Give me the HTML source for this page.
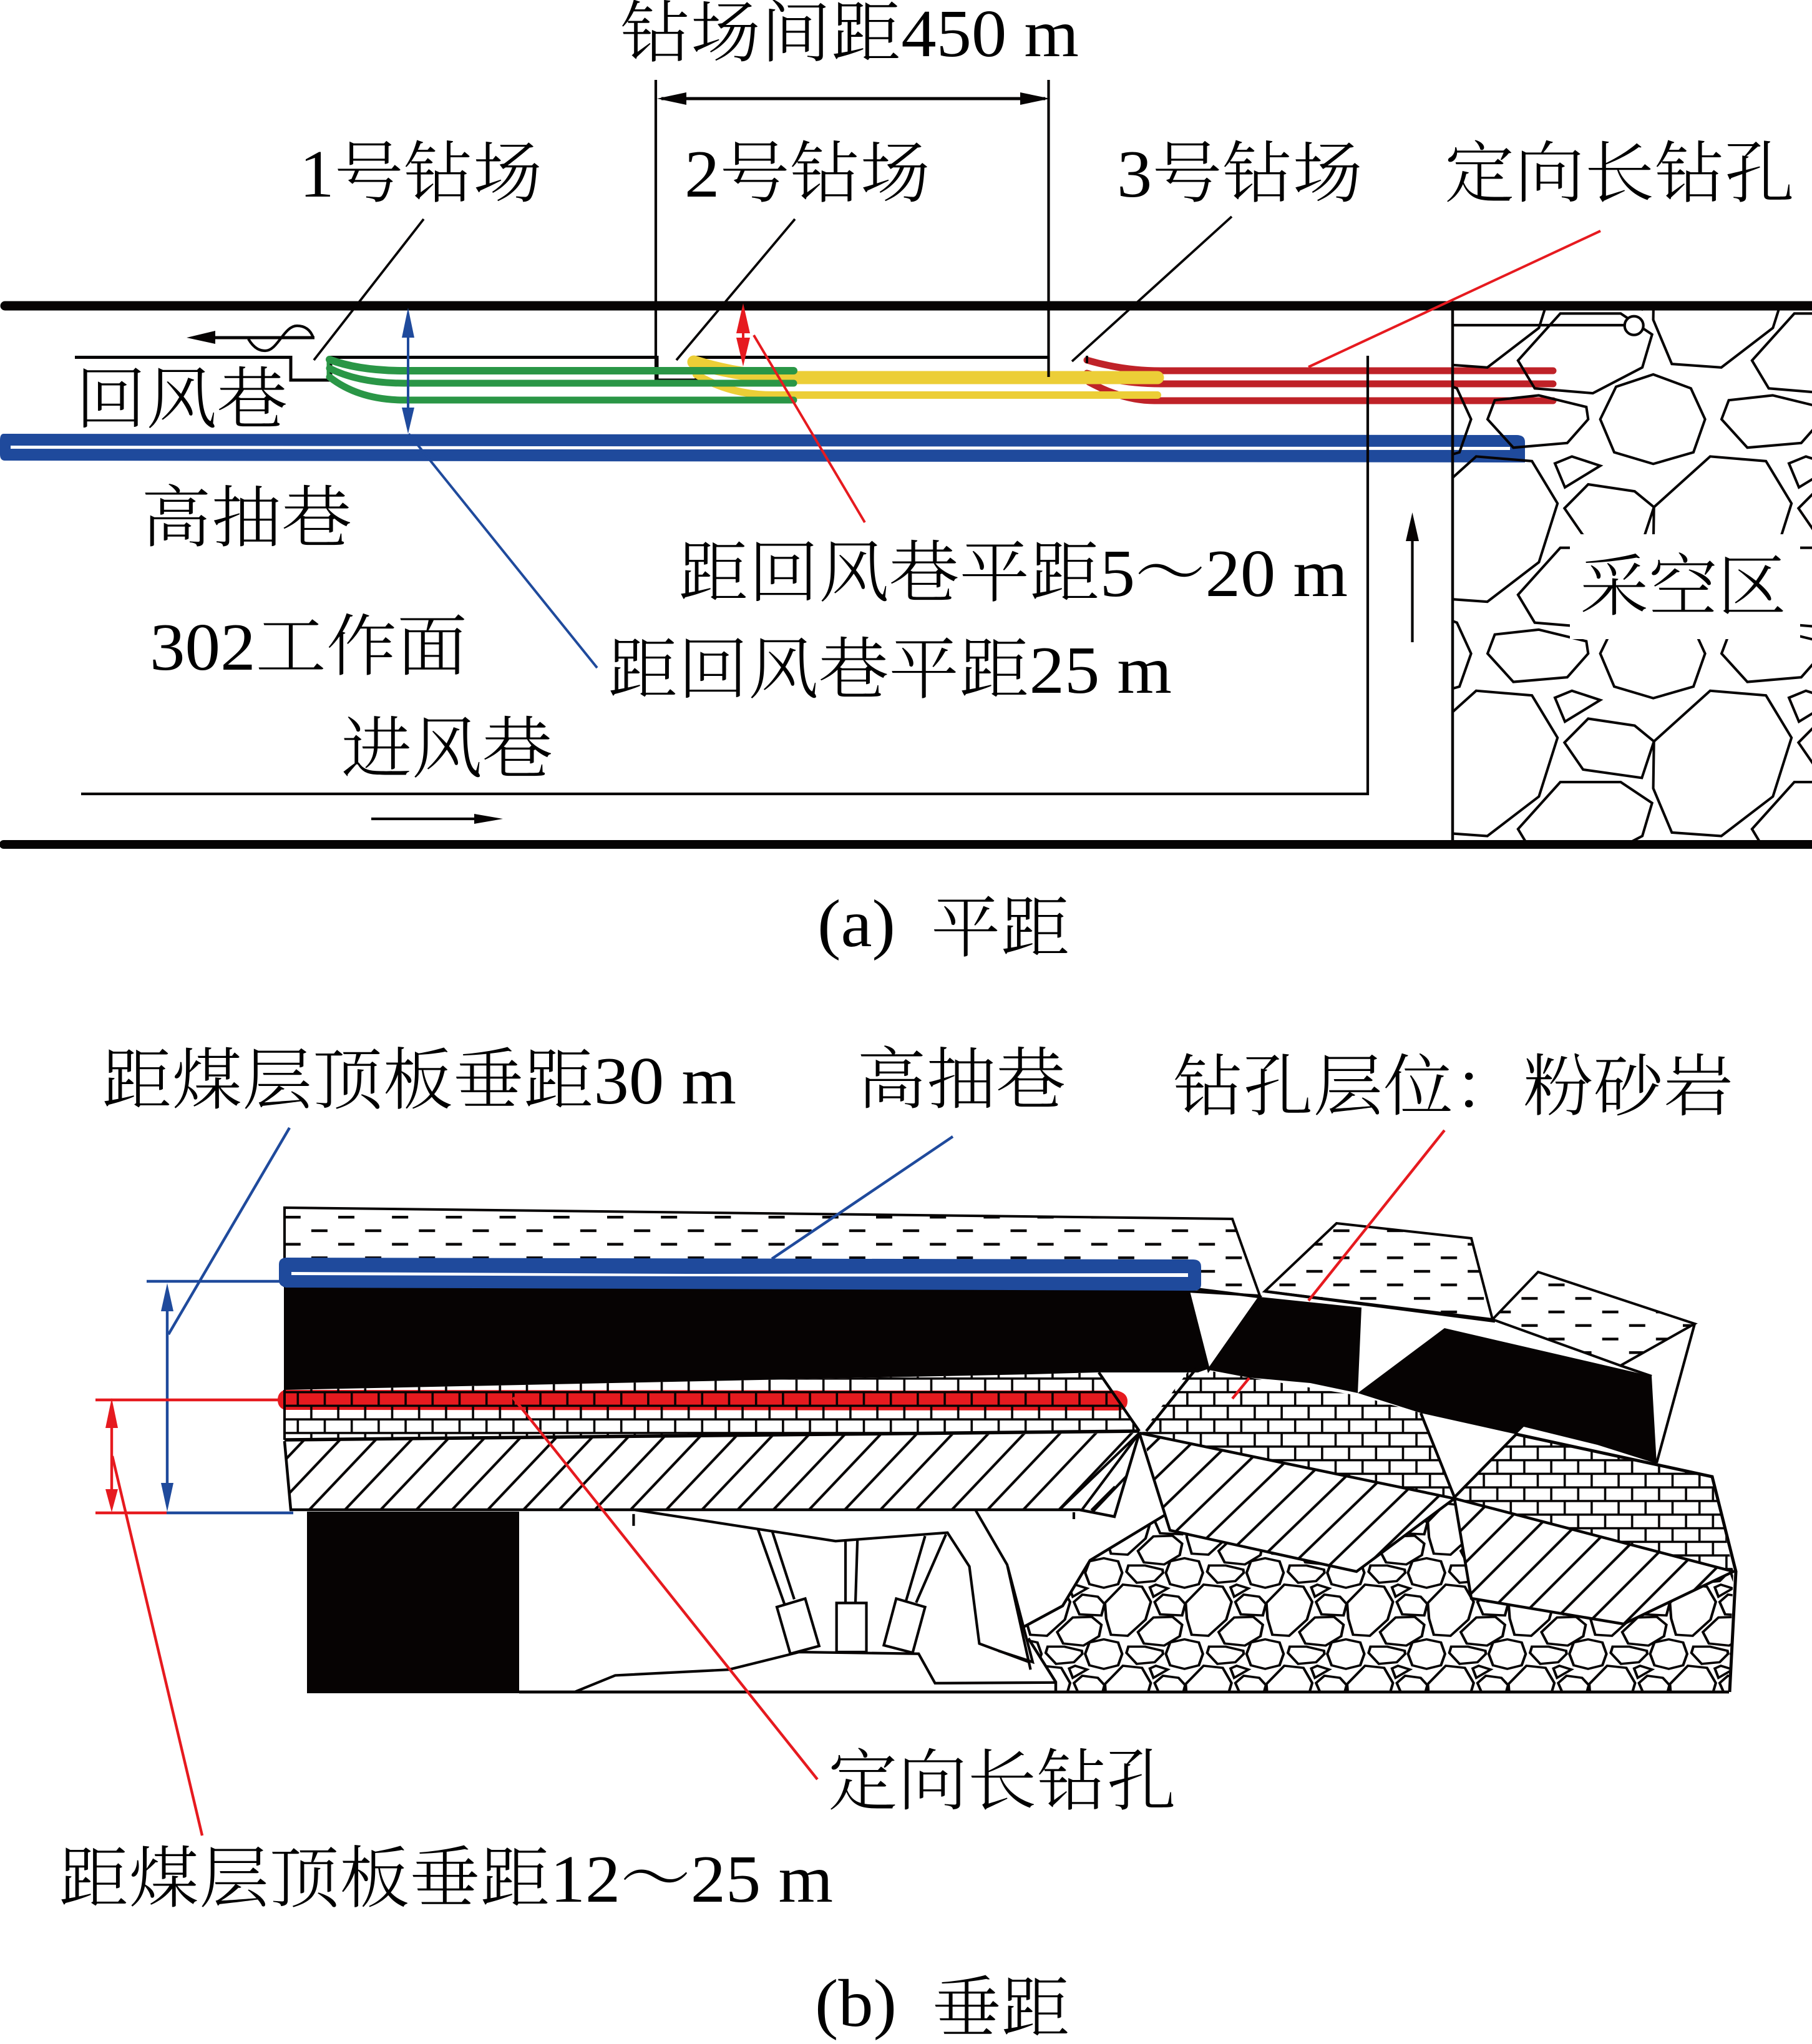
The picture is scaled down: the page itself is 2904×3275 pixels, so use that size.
<!DOCTYPE html>
<html lang="zh"><head><meta charset="utf-8"><title>钻场间距</title>
<style>
html,body{margin:0;padding:0;background:#fff}
svg{display:block}
text{font-family:"Liberation Serif","Noto Serif CJK SC",serif;font-size:108px;fill:#000;font-weight:300}
.k{fill:none;stroke:#060303;stroke-width:4.2;stroke-linejoin:miter}
.ns *{vector-effect:non-scaling-stroke}
.f{fill:#060303;stroke:none}
</style></head><body>
<svg xmlns="http://www.w3.org/2000/svg" width="2904" height="3275" viewBox="0 0 2904 3275">
<defs>
<g id="gf" fill="none" stroke="#060303" stroke-width="11">
<polygon points="485,60 745,60 880,150 838,292 625,403 375,382 303,262"/>
<polygon points="885,322 1047,382 1108,515 1058,657 885,707 717,657 657,515 725,375"/>
<polygon points="203,433 392,412 597,462 605,515 515,617 283,637 172,515"/>
<polygon points="1130,675 1370,695 1480,877 1400,1130 1178,1300 965,1285 885,1095 888,893"/>
<polygon points="462,705 535,675 657,715 505,808"/>
<polygon points="605,795 805,825 888,893 836,1050 583,1014 503,898"/>
</g>
<g id="ru" fill="none" stroke="#060303" stroke-width="11">
<polygon points="675,470 735,485 752,540 735,595 675,612 615,595 597,540 615,485"/>
<polygon points="440,505 510,505 583,525 585,540 550,580 475,588 432,535"/>
<polygon points="755,597 835,607 872,680 850,765 775,843 705,838 685,760 680,685"/>
<polygon points="530,610 555,597 605,615 545,655"/>
<polygon points="585,645 650,655 678,690 665,745 573,740 550,680"/>
<polygon points="545,755 625,752 665,790 655,845 590,890 505,880 480,825"/>
</g>
<pattern id="dash" patternUnits="userSpaceOnUse" width="86.2" height="43.4" patternTransform="translate(542 1948)">
<rect x="0" y="0" width="26" height="4.4" fill="#060303"/><rect x="43.1" y="21.7" width="26" height="4.4" fill="#060303"/>
</pattern>
<pattern id="brick" patternUnits="userSpaceOnUse" width="43.2" height="43.6" patternTransform="translate(475.5 2228.8)">
<rect x="0" y="0" width="43.2" height="3.6" fill="#060303"/><rect x="0" y="21.8" width="43.2" height="3.6" fill="#060303"/>
<rect x="0" y="0" width="3.6" height="21.8" fill="#060303"/><rect x="21.6" y="21.8" width="3.6" height="21.8" fill="#060303"/>
</pattern>
<pattern id="h1" patternUnits="userSpaceOnUse" width="41.5" height="41.5" patternTransform="translate(495.7 2419) rotate(43.5)">
<rect x="0" y="0" width="2.1" height="41.5" fill="#060303"/><rect x="39.4" y="0" width="2.1" height="41.5" fill="#060303"/>
</pattern>
<pattern id="h2" patternUnits="userSpaceOnUse" width="42" height="42" patternTransform="translate(1936.6 2461.7) rotate(46)">
<rect x="0" y="0" width="2.1" height="42" fill="#060303"/><rect x="39.9" y="0" width="2.1" height="42" fill="#060303"/>
</pattern>
<pattern id="h3" patternUnits="userSpaceOnUse" width="41.5" height="41.5" patternTransform="translate(2504 2583) rotate(45)">
<rect x="0" y="0" width="2.1" height="41.5" fill="#060303"/><rect x="39.4" y="0" width="2.1" height="41.5" fill="#060303"/>
</pattern>
<clipPath id="cg"><rect x="2328" y="497" width="576" height="849"/></clipPath>
<clipPath id="cr"><polygon points="1640,2607 1703,2573 1747,2500 1866,2428 1877,2452 2174,2518 2331,2401 2358,2561 2602,2602 2778,2518 2771,2711 1692,2711 1692,2695 1648,2625"/></clipPath>
</defs>
<rect width="2904" height="3275" fill="#fff"/>

<!-- frame under drill holes -->
<path class="k" style="stroke-width:5" d="M120 572.5H466V609H530V572.5H1053V609H1116V572.5H1680"/>
<path class="k" d="M1051 128V609"/>

<!-- Panel a: drill holes -->
<g fill="none" stroke="#bf2228" stroke-width="11" stroke-linecap="round">
<path d="M1742 577Q1800 594 1860 594L2489 594"/>
<path d="M1742 598Q1800 615 1860 615L2489 615"/>
<path d="M1745 612Q1800 642 1850 642L2489 642"/>
</g>
<path d="M1742 570V582" stroke="#060303" stroke-width="4"/>
<g fill="none" stroke="#ecce37" stroke-linecap="round">
<path d="M1112 580Q1190 605 1277 605L1855 605" stroke-width="21"/>
<path d="M1116 600Q1170 633 1240 633L1855 633" stroke-width="12"/>
</g>
<g fill="none" stroke="#2a9646" stroke-linecap="round">
<path d="M528 576Q575 594 648 594L1272 594" stroke-width="12"/>
<path d="M528 590Q575 614 648 614L1272 614" stroke-width="11"/>
<path d="M528 604Q575 641 648 641L1272 641" stroke-width="11"/>
<path d="M526 574V606" stroke-width="5" stroke-linecap="butt"/>
</g>
<!-- blue tube a -->
<path d="M6 695L2430 697Q2444 697 2444 708V741L8 738Q0 738 0 728V705Q0 695 6 695Z" fill="#1f4a9c"/>
<path d="M17 714L860 715L2420 716V721L860 720L17 719Z" fill="#fff"/>

<!-- goaf -->
<g clip-path="url(#cg)"><g transform="translate(2320 480) scale(.3724)">
<use href="#gf" x="-1007" y="-1008"/><use href="#gf" x="0" y="-1008"/><use href="#gf" x="1007" y="-1008"/>
<use href="#gf" x="-1007" y="0"/><use href="#gf" x="0" y="0"/><use href="#gf" x="1007" y="0"/>
<use href="#gf" x="-1007" y="1008"/><use href="#gf" x="0" y="1008"/><use href="#gf" x="1007" y="1008"/>
<use href="#gf" x="-1007" y="2016"/><use href="#gf" x="0" y="2016"/><use href="#gf" x="1007" y="2016"/>
</g></g>
<rect x="2516" y="856" width="369" height="168" fill="#fff"/>
<path class="k" d="M2328 521H2606"/>
<circle cx="2618.7" cy="521.7" r="15" fill="#fff" stroke="#060303" stroke-width="4.2"/>

<!-- Panel a: frame lines -->
<path d="M8 490H2904" stroke="#060303" stroke-width="15" stroke-linecap="round"/>
<path d="M6 1353H2904" stroke="#060303" stroke-width="14" stroke-linecap="round"/>
<path class="k" d="M1680.5 128V604"/>
<path class="k" d="M2192 570V1272H130"/>
<path class="k" d="M2328 490V1350" style="stroke-width:4.5"/>
<path class="k" style="stroke-width:5" d="M1060 158H1675"/>
<polygon class="f" points="1053,158 1100,148 1100,168"/>
<polygon class="f" points="1683,158 1635,148 1635,168"/>
<!-- wind arrows -->
<path class="k" style="stroke-width:5" d="M340 541H504"/>
<polygon class="f" points="299,541 345,530 345,551"/>
<path class="k" d="M398 543C408 560 418 562 425 562C445 562 455 522 476 522C490 522 498 530 502 541"/>
<path class="k" d="M595 1312H785"/>
<polygon class="f" points="806,1312 760,1304 760,1320"/>
<path class="k" d="M2263.5 1029V860"/>
<polygon class="f" points="2263.5,821 2253,867 2274,867"/>
<!-- leaders a -->
<g class="k" style="stroke-width:3.8">
<path d="M679 351L503 577"/><path d="M1274 351L1084 577"/><path d="M1974 347L1718 579"/>
</g>
<path d="M2565 370L2097 588" stroke="#e61a1f" stroke-width="4" fill="none"/>
<path d="M1208 537L1386 837" stroke="#e61a1f" stroke-width="4" fill="none"/>
<path d="M655 695L957 1070" stroke="#1f4a9c" stroke-width="4" fill="none"/>
<!-- dims a -->
<path d="M654 530V665" stroke="#1f4a9c" stroke-width="4"/>
<polygon points="654,493 644,541 664,541" fill="#1f4a9c"/>
<polygon points="654,695 644,653 664,653" fill="#1f4a9c"/>
<path d="M1191 520V560" stroke="#e61a1f" stroke-width="4"/>
<polygon points="1191,486 1180,534 1202,534" fill="#e61a1f"/>
<polygon points="1191,587 1180,541 1202,541" fill="#e61a1f"/>

<!-- Panel b: strata -->
<polygon points="456,1935 1975,1953 2019,2076 1904,2069 456,2060" fill="url(#dash)" stroke="#060303" stroke-width="4"/>
<polygon points="2142,1960 2358,1984 2392,2114 2027,2069" fill="url(#dash)" stroke="#060303" stroke-width="4"/>
<polygon points="2465,2038 2716,2121 2597,2188 2392,2114" fill="url(#dash)" stroke="#060303" stroke-width="4"/>
<path class="k" d="M2716 2121L2655 2344M2597 2188L2647 2205"/>

<!-- red tube under bricks -->
<path d="M456 2227L1790 2228Q1807 2232 1807 2245Q1807 2260 1790 2260L456 2259Q445 2255 445 2243Q445 2231 456 2227Z" fill="#e61a1f"/>
<polygon points="456,2227 1650,2202 1761,2199 1826,2293 1650,2296 456,2307" fill="url(#brick)"/>
<polygon points="1906,2195 1941,2197 2176,2236 2277,2264 2331,2399 1830,2295" fill="url(#brick)"/>
<polygon points="2430,2298 2744,2366 2778,2518 2331,2401" fill="url(#brick)"/>
<path class="k" d="M456 2227V2307" style="stroke-width:4"/>
<path class="k" d="M456 2307L1826 2293" style="stroke-width:5.5"/>

<!-- hatches -->
<polygon points="456,2309 1826,2296 1786,2430 1730,2419 466,2419" fill="url(#h1)"/>
<path class="k" style="stroke-width:4.5" d="M456 2309L466 2419H1730L1786 2430L1826 2296"/>
<path class="k" d="M1826 2296L1699 2418M1826 2296L1734 2419M1787 2382L1749 2420"/>
<polygon points="1830,2296 2331,2401 2174,2518 1875,2452" fill="url(#h2)"/>
<path class="k" style="stroke-width:4.5" d="M1826 2296L2331,2401L2174 2518L1875 2452L1826 2296"/>
<polygon points="2331,2401 2778,2518 2602,2602 2358,2561" fill="url(#h3)"/>
<path class="k" style="stroke-width:4.5" d="M2331 2401L2778 2518L2602 2602L2358 2561L2331 2401"/>

<!-- rubble -->
<g clip-path="url(#cr)"><g transform="translate(1640 2340) scale(.3827 .3333)">
<use href="#ru" x="-676" y="-390"/><use href="#ru" x="-338" y="-390"/><use href="#ru" x="0" y="-390"/><use href="#ru" x="338" y="-390"/><use href="#ru" x="676" y="-390"/><use href="#ru" x="1014" y="-390"/><use href="#ru" x="1352" y="-390"/><use href="#ru" x="1690" y="-390"/><use href="#ru" x="2028" y="-390"/><use href="#ru" x="2366" y="-390"/>
<use href="#ru" x="-676" y="0"/><use href="#ru" x="-338" y="0"/><use href="#ru" x="0" y="0"/><use href="#ru" x="338" y="0"/><use href="#ru" x="676" y="0"/><use href="#ru" x="1014" y="0"/><use href="#ru" x="1352" y="0"/><use href="#ru" x="1690" y="0"/><use href="#ru" x="2028" y="0"/><use href="#ru" x="2366" y="0"/>
<use href="#ru" x="-676" y="390"/><use href="#ru" x="-338" y="390"/><use href="#ru" x="0" y="390"/><use href="#ru" x="338" y="390"/><use href="#ru" x="676" y="390"/><use href="#ru" x="1014" y="390"/><use href="#ru" x="1352" y="390"/><use href="#ru" x="1690" y="390"/><use href="#ru" x="2028" y="390"/><use href="#ru" x="2366" y="390"/>
</g></g>
<path class="k" style="stroke-width:4.5" d="M1640 2607L1703 2573L1747 2500L1866 2428M1648 2625L1692 2695V2711"/>
<path class="k" style="stroke-width:5" d="M2430 2298L2744 2366L2782 2518L2772 2711"/>

<!-- coal -->
<polygon class="f" points="455,2060 1904,2066 1937,2193 1920,2199 1757,2199 1650,2202 455,2227"/>
<polygon class="f" points="2019,2078 2182,2095 2176,2232 2100,2216 2000,2207 1937,2195"/>
<polygon class="f" points="2176,2232 2315,2128 2647,2205 2655,2345 2560,2315 2442,2286 2430,2298 2277,2264"/>
<polygon class="f" points="492,2422 832,2422 832,2713 492,2713"/>
<!-- wedge lines -->
<path class="k" style="stroke-width:4.5" d="M1904 2066L1937 2195L2019 2078L1900 2063M2027 2069L2396 2117M1917 2193L1837 2293M1761 2199L1826 2293M2277 2264L2331 2399L2430 2298"/>
<path d="M832 2711H2771" stroke="#060303" stroke-width="4.8"/>

<!-- mining support -->
<g class="ns" transform="matrix(.7972 0 0 .5421 400 1900)" fill="none" stroke="#060303" stroke-width="4.2">
<polyline points="775,958 1178,1050 1403,1025 1447,1125 1467,1353 1568,1408"/>
<path d="M772 970V1005"/>
<path d="M1022 1015L1075 1235M1050 1018L1095 1222"/>
<polygon points="1060,1245 1117,1220 1145,1360 1087,1383"/>
<path d="M1198 1047V1232M1222 1045L1218 1232"/>
<polygon points="1180,1233 1240,1233 1240,1378 1180,1378"/>
<path d="M1358 1035L1320 1225M1400 1030L1340 1232"/>
<polygon points="1300,1220 1358,1245 1333,1380 1275,1358"/>
<polyline points="655,1495 735,1447 963,1430 1105,1378 1345,1383 1378,1470 1620,1468"/>
<polyline points="1460,960 1523,1120 1570,1430"/>
</g>
<path class="k" d="M1600 2645L1655 2663L1615 2510M1721 2423V2434"/>

<!-- blue tube b -->
<path d="M458 2015L1912 2018Q1925 2018 1925 2030V2058Q1925 2068 1912 2068L458 2063Q447 2060 447 2052V2026Q447 2016 458 2015Z" fill="#1f4a9c"/>
<path d="M467 2038L1100 2041L1904 2040V2046L1100 2045L467 2043Z" fill="#fff"/>

<!-- leaders and dims b -->
<g fill="none" stroke="#1f4a9c" stroke-width="4.4">
<path d="M235 2053H448"/><path d="M267 2424H470"/><path d="M268 2090V2390"/>
<path d="M464 1807L270 2138"/><path d="M1527 1821L1237 2017"/>
</g>
<polygon points="268,2056 258,2101 278,2101" fill="#1f4a9c"/>
<polygon points="268,2422 258,2376 278,2376" fill="#1f4a9c"/>
<g fill="none" stroke="#e61a1f" stroke-width="4.4">
<path d="M153 2243H446"/><path d="M153 2424H267"/><path d="M179 2280V2395"/>
<path d="M180 2333L324 2941"/><path d="M822 2239L1310 2851"/>
<path d="M2315 1811L2097 2084"/><path d="M2002 2208L1975 2241"/>
</g>
<polygon points="179,2240 169,2288 189,2288" fill="#e61a1f"/>
<polygon points="179,2423 169,2386 189,2386" fill="#e61a1f"/>

<!-- text -->
<text x="994" y="90" textLength="735" lengthAdjust="spacingAndGlyphs">钻场间距450 m</text>
<text x="480" y="315" textLength="389" lengthAdjust="spacingAndGlyphs">1号钻场</text>
<text x="1097" y="315" textLength="394" lengthAdjust="spacingAndGlyphs">2号钻场</text>
<text x="1790" y="315" textLength="394" lengthAdjust="spacingAndGlyphs">3号钻场</text>
<text x="2315" y="315" textLength="561" lengthAdjust="spacingAndGlyphs">定向长钻孔</text>
<text x="121" y="677" textLength="340" lengthAdjust="spacingAndGlyphs">回风巷</text>
<text x="226" y="867" textLength="338" lengthAdjust="spacingAndGlyphs">高抽巷</text>
<text x="1087" y="955" textLength="1073" lengthAdjust="spacingAndGlyphs">距回风巷平距5～20 m</text>
<text x="240" y="1073" textLength="509" lengthAdjust="spacingAndGlyphs">302工作面</text>
<text x="974" y="1110" textLength="904" lengthAdjust="spacingAndGlyphs">距回风巷平距25 m</text>
<text x="547" y="1237" textLength="339" lengthAdjust="spacingAndGlyphs">进风巷</text>
<text x="2532" y="977" textLength="331" lengthAdjust="spacingAndGlyphs">采空区</text>
<text x="1310" y="1516" textLength="125" lengthAdjust="spacingAndGlyphs">(a)</text>
<text x="1492" y="1524" textLength="223" lengthAdjust="spacingAndGlyphs">平距</text>
<text x="163" y="1768" textLength="1017" lengthAdjust="spacingAndGlyphs">距煤层顶板垂距30 m</text>
<text x="1373" y="1767" textLength="335" lengthAdjust="spacingAndGlyphs">高抽巷</text>
<text x="1880" y="1778" textLength="898" lengthAdjust="spacingAndGlyphs">钻孔层位：粉砂岩</text>
<text x="1327" y="2891" textLength="558" lengthAdjust="spacingAndGlyphs">定向长钻孔</text>
<text x="94" y="3047" textLength="1241" lengthAdjust="spacingAndGlyphs">距煤层顶板垂距12～25 m</text>
<text x="1306" y="3246" textLength="131" lengthAdjust="spacingAndGlyphs">(b)</text>
<text x="1494" y="3255" textLength="221" lengthAdjust="spacingAndGlyphs">垂距</text>
</svg>
</body></html>
